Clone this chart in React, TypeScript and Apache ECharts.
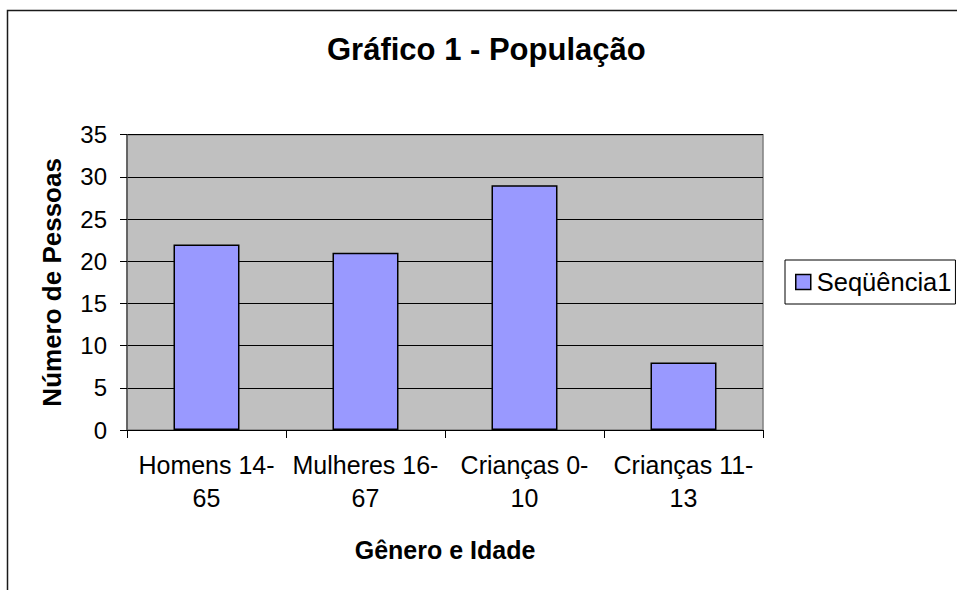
import React, { useEffect, useRef } from "react";
import * as echarts from "echarts";

const categories = ["Homens 14-\n65", "Mulheres 16-\n67", "Crianças 0-\n10", "Crianças 11-\n13"];
const seriesName = "Seqüência1";
const values = [22, 21, 29, 8];
const chartTitle = "Gráfico 1 - População";
const xAxisTitle = "Gênero e Idade";
const yAxisTitle = "Número de Pessoas";

export default function App() {
  const ref = useRef<HTMLDivElement>(null);
  useEffect(() => {
    if (!ref.current) return;
    const chart = echarts.init(ref.current, null, { renderer: "svg" });
    const font = "Liberation Sans, Arial, sans-serif";
    chart.setOption({
      animation: false,
      backgroundColor: "#ffffff",
      textStyle: { fontFamily: font },
      title: {
        text: chartTitle,
        left: 327,
        top: 34,
        padding: 0,
        textStyle: { fontSize: 31, fontWeight: "bold", color: "#000", fontFamily: font },
      },
      graphic: [
        {
          type: "rect",
          shape: { x: 7.5, y: 10.5, width: 1200, height: 1000 },
          style: { fill: "none", stroke: "#1a1a1a", lineWidth: 1.5 },
          silent: true,
          z: 100,
        },
      ],
      legend: {
        orient: "vertical",
        left: 785,
        top: 260,
        padding: [9, 4, 9, 10],
        itemWidth: 15,
        itemHeight: 15,
        itemGap: 7,
        backgroundColor: "#fff",
        borderColor: "#000",
        borderWidth: 1,
        textStyle: { fontSize: 25.5, color: "#000", fontFamily: font, padding: [0, 0, 0, 1] },
        data: [{ name: seriesName, icon: "rect", itemStyle: { borderColor: "#000", borderWidth: 1.5 } }],
      },
      grid: {
        left: 127,
        top: 134.7,
        right: 194,
        bottom: 160,
        show: true,
        backgroundColor: "#C0C0C0",
        borderColor: "#808080",
        borderWidth: 1.5,
      },
      xAxis: {
        type: "category",
        data: categories,
        name: xAxisTitle,
        nameLocation: "middle",
        nameGap: 107,
        nameTextStyle: { fontSize: 25, fontWeight: "bold", color: "#000", fontFamily: font },
        axisLine: { show: true, lineStyle: { color: "#000", width: 1 } },
        axisTick: { show: true, length: 8, lineStyle: { color: "#000" } },
        axisLabel: { fontSize: 25, color: "#000", lineHeight: 33, margin: 18, interval: 0, fontFamily: font },
      },
      yAxis: {
        type: "value",
        min: 0,
        max: 35,
        interval: 5,
        name: yAxisTitle,
        nameLocation: "middle",
        nameRotate: 90,
        nameGap: 62,
        nameTextStyle: { fontSize: 26, fontWeight: "bold", color: "#000", fontFamily: font },
        axisLine: { show: true, lineStyle: { color: "#555", width: 1.5 } },
        axisTick: { show: true, length: 7, lineStyle: { color: "#000" } },
        axisLabel: { fontSize: 24, color: "#000", margin: 20, fontFamily: font },
        splitLine: { show: true, lineStyle: { color: "#000", width: 1 } },
      },
      series: [
        {
          name: seriesName,
          type: "bar",
          data: values,
          barWidth: "41.5%",
          itemStyle: { color: "#9999FF", borderColor: "#000", borderWidth: 1.5 },
        },
      ],
    });
    return () => chart.dispose();
  }, []);
  return <div ref={ref} style={{ position: "absolute", left: 0, top: 0, width: 957, height: 590 }} />;
}
